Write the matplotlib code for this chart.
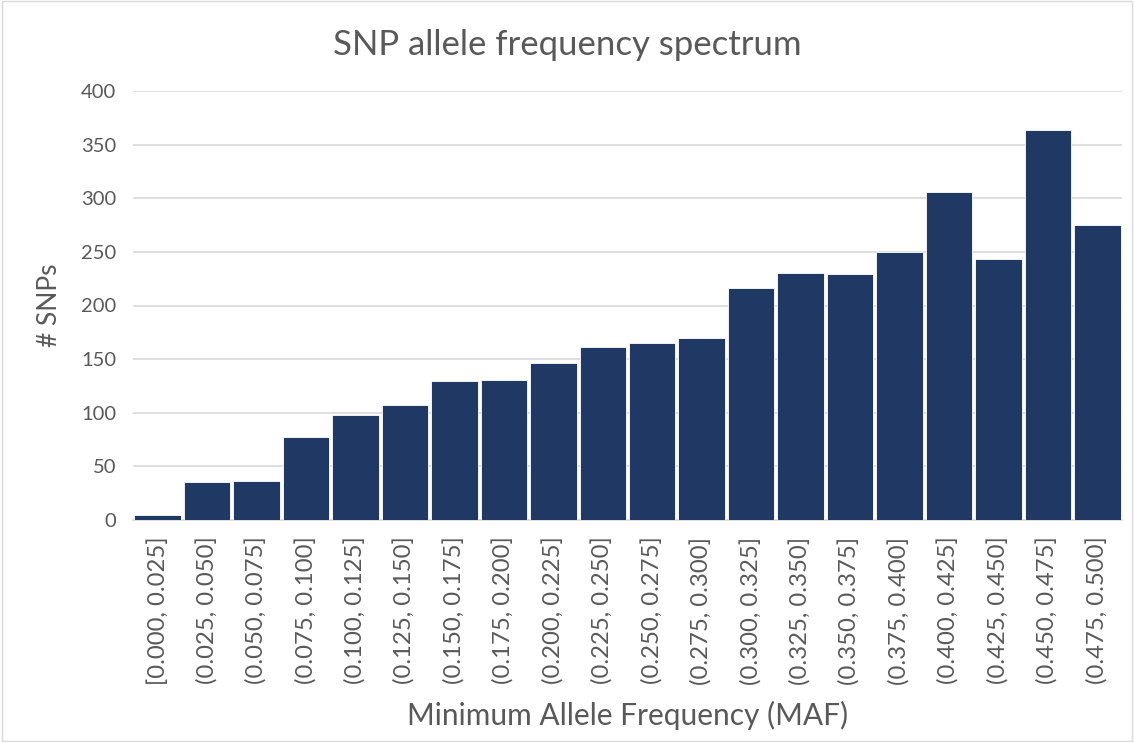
import numpy as np
import matplotlib.pyplot as plt

# --- dane ---
bins = ["[0.000, 0.025]", "(0.025, 0.050]", "(0.050, 0.075]", "(0.075, 0.100]",
        "(0.100, 0.125]", "(0.125, 0.150]", "(0.150, 0.175]", "(0.175, 0.200]",
        "(0.200, 0.225]", "(0.225, 0.250]", "(0.250, 0.275]", "(0.275, 0.300]",
        "(0.300, 0.325]", "(0.325, 0.350]", "(0.350, 0.375]", "(0.375, 0.400]",
        "(0.400, 0.425]", "(0.425, 0.450]", "(0.450, 0.475]", "(0.475, 0.500]"]
counts = [5, 35, 36, 77, 98, 107, 130, 131, 146, 161,
          165, 170, 216, 230, 229, 250, 306, 243, 364, 275]
yticks = [0, 50, 100, 150, 200, 250, 300, 350, 400]

txt = "#595959"
plt.rcParams['font.family'] = ['Lato', 'DejaVu Sans']

fig = plt.figure(figsize=(11.34, 7.42), dpi=100)
ax = fig.add_axes([133/1134, 222/742, 989/1134, 429/742])

x = np.arange(len(bins))
ax.bar(x, counts, width=0.94, color="#203864", edgecolor="white", linewidth=0.6, zorder=3)

ax.set_xlim(-0.5, len(bins) - 0.5)
ax.set_ylim(0, 400)
ax.set_yticks(yticks)
ax.set_xticks(x)
ax.set_xticklabels(bins, rotation=90, fontsize=17.2, color=txt)
ax.tick_params(axis='y', labelsize=14.5, labelcolor=txt, length=0, pad=12)
ax.tick_params(axis='x', length=0, pad=12)
ax.grid(axis='y', color="#d9d9d9", linewidth=1.2, zorder=0)
for s in ['top', 'right', 'left']:
    ax.spines[s].set_visible(False)
ax.spines['bottom'].set_color("#d9d9d9")
ax.spines['bottom'].set_linewidth(1.2)

ax.set_ylabel("# SNPs", fontsize=19, color=txt, labelpad=14)
ax.set_xlabel("Minimum Allele Frequency (MAF)", fontsize=21.5, color=txt, labelpad=11)
fig.text(0.5, 1 - 45/742, "SNP allele frequency spectrum", ha='center', va='center',
         fontsize=25, color=txt)

# ramka wykresu
fig.patches.append(plt.Rectangle((0.002, 0.002), 0.996, 0.996, transform=fig.transFigure,
                                 fill=False, edgecolor="#d9d9d9", linewidth=1))

fig.savefig("out.png", dpi=100)
